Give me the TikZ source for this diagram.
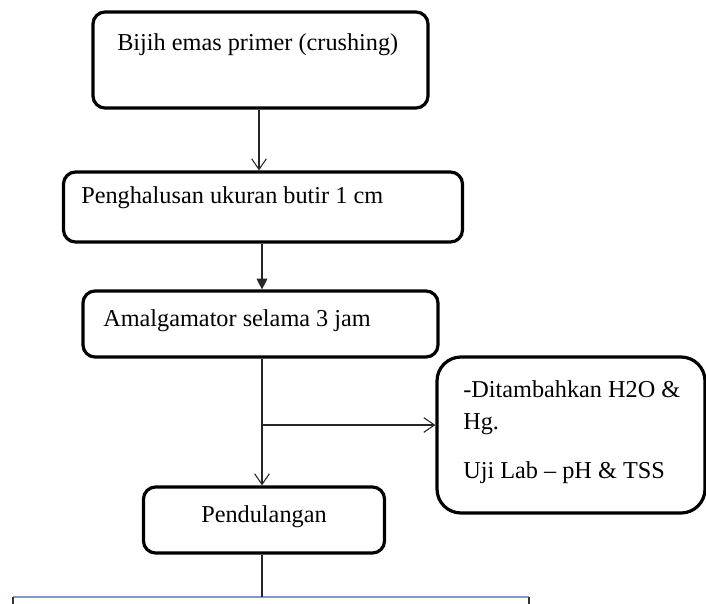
\documentclass[tikz,border=0pt]{standalone}
\usepackage{fontspec}
\setmainfont{Liberation Serif}
\usetikzlibrary{arrows.meta}
\definecolor{bluebox}{RGB}{125,156,204}
\begin{document}
\begin{tikzpicture}[x=0.75pt,y=-0.75pt,
  box/.style={draw=black,line width=2.4pt,rectangle,rounded corners=9pt,inner sep=0pt},
  txt/.style={anchor=base west,inner sep=0pt,font=\fontsize{18.2}{22}\selectfont},
  conn/.style={draw=black!85,line width=0.8pt},
  openarrow/.style={conn,-{Straight Barb[length=8pt,width=11pt]}},
  filledarrow/.style={conn,-{Triangle[length=8pt,width=8pt]}}]
\useasboundingbox (0,0) rectangle (706,603);
\fill[white] (0,0) rectangle (706,603);
% boxes
\node[box,minimum width=335*0.75pt,minimum height=96*0.75pt] (b1) at (260.5,60) {};
\node[box,minimum width=399*0.75pt,minimum height=70*0.75pt] (b2) at (263,207) {};
\node[box,minimum width=355*0.75pt,minimum height=66*0.75pt] (b3) at (260.5,324) {};
\node[box,rounded corners=18pt,minimum width=268*0.75pt,minimum height=156*0.75pt] (side) at (571,435) {};
\node[box,minimum width=241*0.75pt,minimum height=66*0.75pt] (b4) at (264,520) {};
% texts
\node[txt] (t1) at (117,50) {Bijih emas primer (crushing)};
\node[txt] (t2) at (81,203) {Penghalusan ukuran butir 1 cm};
\node[txt] (t3) at (103,326) {Amalgamator selama 3 jam};
\node[txt] (t4a) at (463,397) {-Ditambahkan H2O \&};
\node[txt] (t4b) at (463,429) {Hg.};
\node[txt] (t4c) at (463,478) {Uji Lab – pH \& TSS};
\node[txt,anchor=base] (t5) at (264,522) {Pendulangan};
% trunk coordinates
\coordinate (c1) at (259,0);
\coordinate (c2) at (262,0);
\coordinate (br) at (262,425);
\coordinate (bl) at (262,597);
% bottom blue box
\coordinate (bbl) at (13,597);
\coordinate (bbr) at (529,597);
\draw[bluebox,line width=1.3pt] (bbl) -- (bbr);
\draw[black!80,line width=1pt] (bbl) -- ++(0,8);
\draw[black!80,line width=1pt] (bbr) -- ++(0,8);
% connectors
\draw[openarrow] (b1.south -| c1) -- (b2.north -| c1);
\draw[filledarrow] (b2.south -| c2) -- (b3.north -| c2);
\draw[openarrow] (b3.south -| c2) -- (b4.north -| c2);
\draw[openarrow] (br) -- (side.west |- br);
\draw[conn] (b4.south -| c2) -- (bl);
\end{tikzpicture}
\end{document}
